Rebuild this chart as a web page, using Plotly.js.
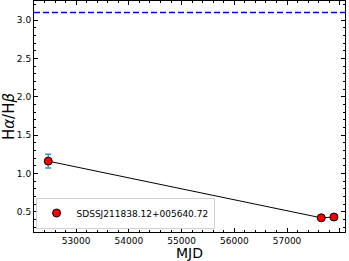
<!DOCTYPE html>
<html>
<head>
<meta charset="utf-8">
<script src="https://cdn.plot.ly/plotly-3.0.1.min.js"></script>
<style>html,body{margin:0;padding:0;background:#fff}#chart{width:349px;height:261px}</style>
</head>
<body>
<div id="chart"></div>
<script>
const objectName = "SDSSJ211838.12+005640.72";
const mjd = [52470, 57650, 57890];
const ratio = [1.16, 0.42, 0.43];
const ratioErr = [0.09, 0.03, 0.025];
const caseBRatio = 3.1;
const xTickVals = [53000, 54000, 55000, 56000, 57000, 58000];
const yTickVals = [0.5, 1.0, 1.5, 2.0, 2.5, 3.0];

const font = "DejaVu Sans, Liberation Sans, sans-serif";

const traces = [
  {
    x: mjd, y: ratio, type: 'scatter', mode: 'lines',
    line: {color: '#000', width: 1}, showlegend: false, hoverinfo: 'skip'
  },
  {
    x: mjd, y: ratio, type: 'scatter', mode: 'markers', name: objectName,
    marker: {color: '#ff0000', size: 8, line: {color: '#000', width: 1}},
    error_y: {type: 'data', array: ratioErr, visible: true, color: '#3a8fd8', thickness: 1.3, width: 3}
  }
];

const axisCommon = {
  showgrid: false, zeroline: false, showline: true, linecolor: '#000', linewidth: 1,
  mirror: 'allticks', ticks: 'inside', ticklen: 4, tickwidth: 1, tickcolor: '#000',
  tickfont: {family: font, size: 9, color: '#000'}
};

const layout = {
  width: 349, height: 261,
  margin: {l: 34, r: 4, t: 1, b: 29},
  paper_bgcolor: '#fff', plot_bgcolor: '#fff',
  showlegend: true,
  legend: {
    x: 0.005, y: 0.015, xanchor: 'left', yanchor: 'bottom',
    bgcolor: 'rgba(255,255,255,0.8)', bordercolor: '#d0d0d0', borderwidth: 1,
    font: {family: font, size: 9, color: '#000'},
    itemwidth: 30, tracegroupgap: 0
  },
  xaxis: Object.assign({}, axisCommon, {
    range: [52200, 58100],
    tickvals: xTickVals, ticktext: xTickVals.map(v => String(v)),
    minor: {ticks: 'inside', ticklen: 2, dtick: 200, tickcolor: '#000', tickwidth: 1},
    title: {text: 'MJD', font: {family: font, size: 14, color: '#000'}, standoff: 7}
  }),
  yaxis: Object.assign({}, axisCommon, {
    range: [0.235, 3.25],
    tickvals: yTickVals, ticktext: yTickVals.map(v => v.toFixed(1)),
    minor: {ticks: 'inside', ticklen: 2, dtick: 0.1, tickcolor: '#000', tickwidth: 1},
    title: {text: 'H<i>α</i>/H<i>β</i>', font: {family: font, size: 15, color: '#000'}, standoff: 5}
  }),
  shapes: [{
    type: 'line', xref: 'paper', x0: 0, x1: 1, yref: 'y', y0: caseBRatio, y1: caseBRatio,
    line: {color: '#0000ee', width: 1.5, dash: '6px,3px'}
  }]
};

Plotly.newPlot('chart', traces, layout, {displayModeBar: false, staticPlot: true});
</script>
</body>
</html>
